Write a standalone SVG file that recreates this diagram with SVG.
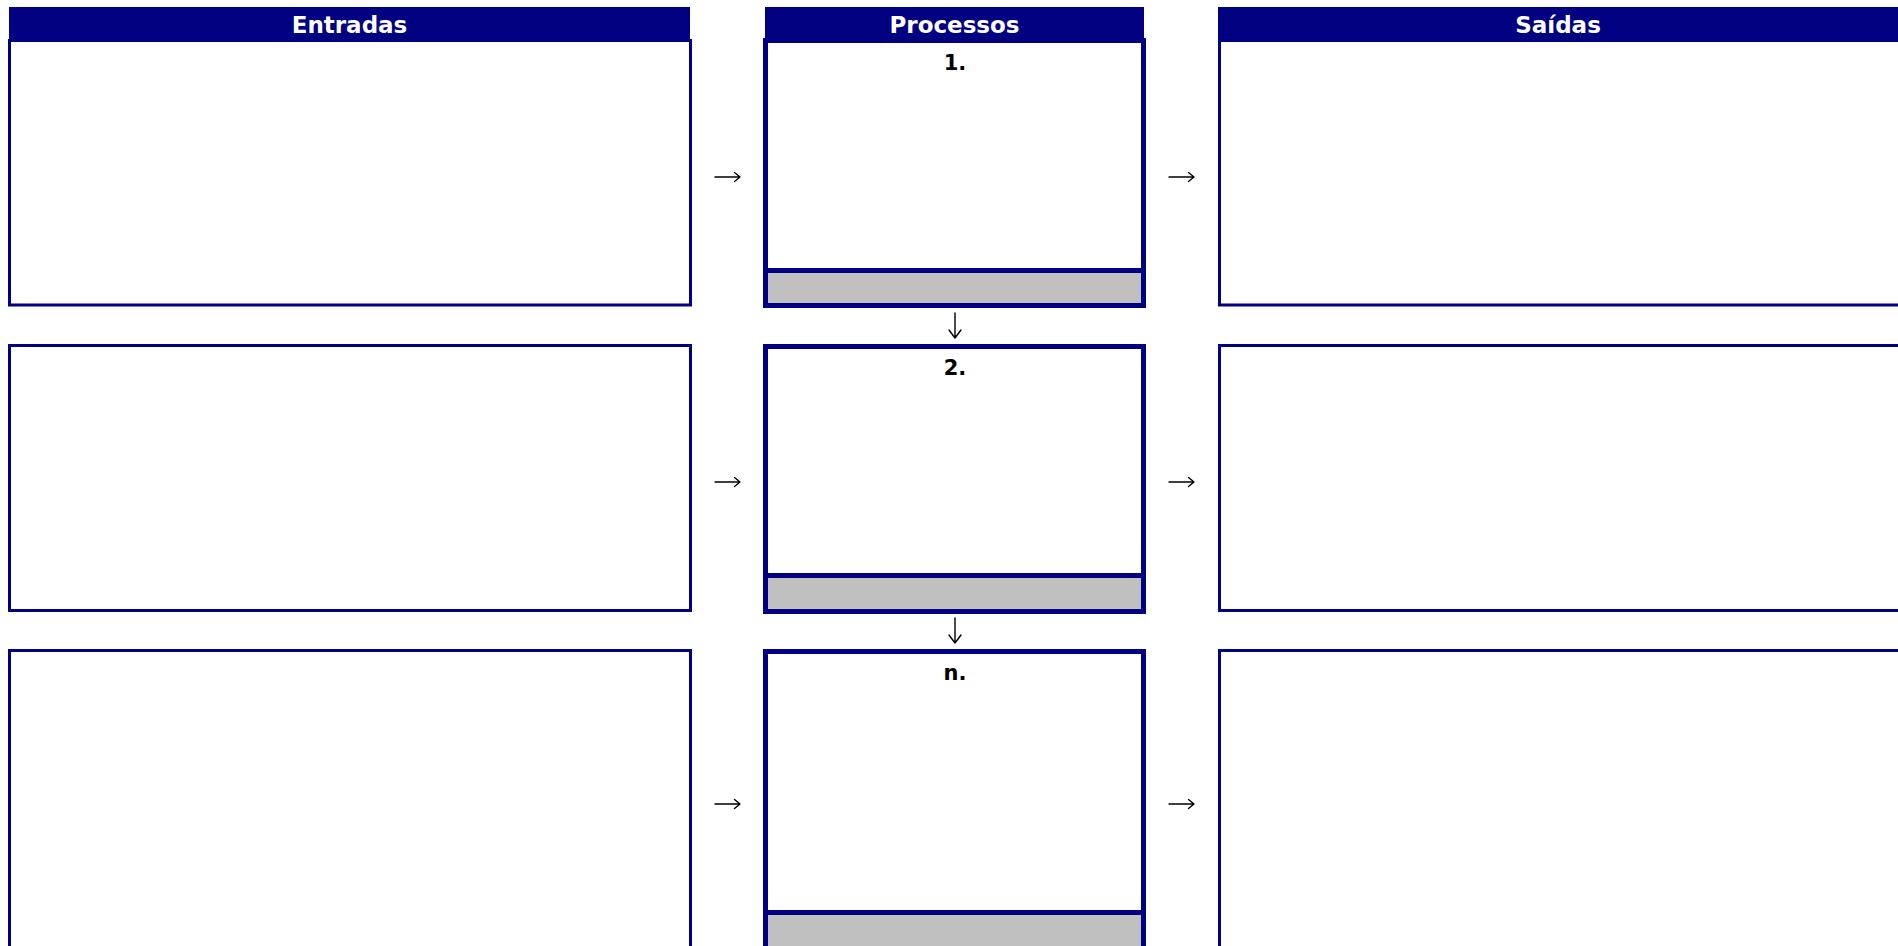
<svg xmlns="http://www.w3.org/2000/svg" width="1898" height="946" viewBox="0 0 1898 946">
<style>
.hdr{fill:#000080}
.htxt{font-family:"DejaVu Sans",Verdana,sans-serif;font-weight:bold;font-size:23px;fill:#ffffff;text-anchor:middle}
.box{fill:#ffffff;stroke:#000080;stroke-width:3}
.pbox{fill:#ffffff;stroke:#000080;stroke-width:5}
.grey{fill:#c0c0c0;stroke:#000080;stroke-width:5}
.num{font-family:"DejaVu Sans",Verdana,sans-serif;font-weight:bold;font-size:21px;fill:#000000;text-anchor:middle}
.arr{fill:none;stroke:#000000;stroke-width:1.4;stroke-linecap:round;stroke-linejoin:round}
</style>
<rect width="1898" height="946" fill="#ffffff"/>
<g id="entradas-1"><rect class="box" x="9.5" y="40.5" width="681" height="264.5"/></g>
<g id="entradas-2"><rect class="box" x="9.5" y="345.5" width="681" height="265"/></g>
<g id="entradas-3"><rect class="box" x="9.5" y="650.5" width="681" height="320"/></g>
<g id="saidas-1"><rect class="box" x="1219.5" y="40.5" width="700" height="264.5"/></g>
<g id="saidas-2"><rect class="box" x="1219.5" y="345.5" width="700" height="265"/></g>
<g id="saidas-3"><rect class="box" x="1219.5" y="650.5" width="700" height="320"/></g>
<g id="processo-1">
<rect class="pbox" x="765.5" y="40.5" width="378" height="265"/>
<rect class="grey" x="765.5" y="270.5" width="378" height="35"/>
<text class="num" x="955" y="70">1.</text>
</g>
<g id="processo-2">
<rect class="pbox" x="765.5" y="346.5" width="378" height="265"/>
<rect class="grey" x="765.5" y="575.5" width="378" height="36"/>
<text class="num" x="955" y="375">2.</text>
</g>
<g id="processo-n">
<rect class="pbox" x="765.5" y="651.5" width="378" height="320"/>
<rect class="grey" x="765.5" y="912.5" width="378" height="59"/>
<text class="num" x="955" y="680">n.</text>
</g>
<g id="header-entradas"><rect class="hdr" x="9" y="7" width="681" height="33"/><text class="htxt" x="349.5" y="33">Entradas</text></g>
<g id="header-processos"><rect class="hdr" x="765" y="7" width="379" height="33"/><text class="htxt" x="954.5" y="33">Processos</text></g>
<g id="header-saidas"><rect class="hdr" x="1218" y="7" width="680" height="33"/><text class="htxt" x="1558" y="33">Saídas</text></g>
<g id="connectors">
<path class="arr" d="M715,177 H740 M734.5,172.5 L740,177 L734.5,181.5"/>
<path class="arr" d="M1169,177 H1194 M1188.5,172.5 L1194,177 L1188.5,181.5"/>
<path class="arr" d="M715,482 H740 M734.5,477.5 L740,482 L734.5,486.5"/>
<path class="arr" d="M1169,482 H1194 M1188.5,477.5 L1194,482 L1188.5,486.5"/>
<path class="arr" d="M715,804 H740 M734.5,799.5 L740,804 L734.5,808.5"/>
<path class="arr" d="M1169,804 H1194 M1188.5,799.5 L1194,804 L1188.5,808.5"/>
<path class="arr" d="M955,313 V338 M949,330 L955,338 L961,330"/>
<path class="arr" d="M955,618 V643 M949,635 L955,643 L961,635"/>
</g>
</svg>
